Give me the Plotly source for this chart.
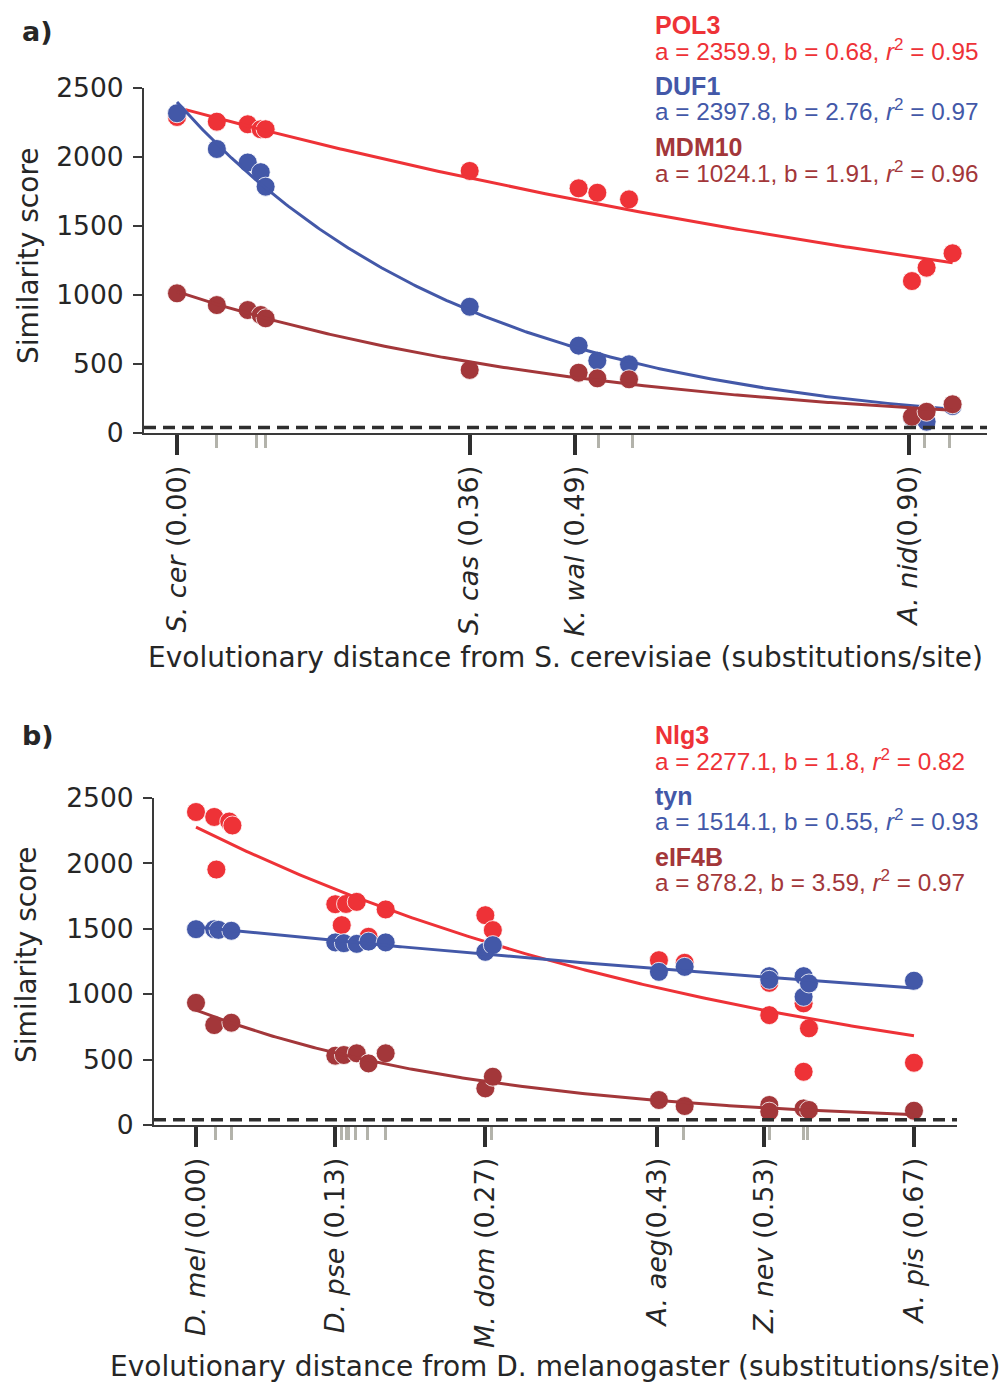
import numpy as np
import plotly.graph_objects as go

W, H = 1002, 1384

# ---------------- Panel a data ----------------
a_genes = ["POL3", "DUF1", "MDM10"]
a_fit_a = [2359.9, 2397.8, 1024.1]
a_fit_b = [0.68, 2.76, 1.91]
a_fit_r2 = [0.95, 0.97, 0.96]
a_x = [0.0, 0.049, 0.087, 0.103, 0.109, 0.36, 0.494, 0.517, 0.556, 0.904, 0.922, 0.954]
a_pol3 = [2290, 2256, 2237, 2201, 2201, 1899, 1773, 1741, 1693, 1101, 1198, 1302]
a_duf1 = [2317, 2058, 1960, 1890, 1785, 915, 633, 524, 498, 110, 82, 195]
a_mdm10 = [1012, 927, 891, 855, 831, 457, 437, 396, 389, 118, 154, 208]
a_major_vals = [0.0, 0.36, 0.49, 0.90]
a_major_text = ["<i>S. cer</i> (0.00)", "<i>S. cas</i> (0.36)", "<i>K. wal</i> (0.49)", "<i>A. nid</i>(0.90)"]
a_minor_vals = [0.049, 0.098, 0.109, 0.519, 0.560, 0.920, 0.950]
a_xtitle = "Evolutionary distance from S. cerevisiae (substitutions/site)"

# ---------------- Panel b data ----------------
b_genes = ["Nlg3", "tyn", "eIF4B"]
b_fit_a = [2277.1, 1514.1, 878.2]
b_fit_b = [1.8, 0.55, 3.59]
b_fit_r2 = [0.82, 0.93, 0.97]
b_nlg3_x = [0.0, 0.017, 0.019, 0.031, 0.034, 0.13, 0.136, 0.14, 0.15, 0.161, 0.177,
            0.27, 0.277, 0.432, 0.456, 0.535, 0.535, 0.567, 0.567, 0.572, 0.67]
b_nlg3_y = [2393, 2355, 1953, 2320, 2290, 1688, 1528, 1690, 1706, 1439, 1648,
            1604, 1490, 1260, 1240, 1087, 840, 930, 407, 739, 476]
b_tyn_x = [0.0, 0.017, 0.021, 0.033, 0.13, 0.138, 0.15, 0.161, 0.177,
           0.27, 0.277, 0.432, 0.456, 0.535, 0.535, 0.567, 0.567, 0.572, 0.67]
b_tyn_y = [1497, 1497, 1492, 1485, 1396, 1390, 1385, 1402, 1396,
           1324, 1375, 1171, 1209, 1138, 1110, 1138, 980, 1082, 1103]
b_eif_x = [0.0, 0.017, 0.033, 0.13, 0.138, 0.15, 0.161, 0.177,
           0.27, 0.277, 0.432, 0.456, 0.535, 0.535, 0.567, 0.572, 0.67]
b_eif_y = [934, 764, 782, 530, 535, 548, 471, 548,
           280, 369, 191, 145, 153, 102, 127, 115, 109]
b_major_vals = [0.0, 0.13, 0.27, 0.43, 0.53, 0.67]
b_major_text = ["<i>D. mel</i> (0.00)", "<i>D. pse</i> (0.13)", "<i>M. dom</i> (0.27)",
                "<i>A. aeg</i>(0.43)", "<i>Z. nev</i> (0.53)", "<i>A. pis</i> (0.67)"]
b_minor_vals = [0.018, 0.033, 0.136, 0.140, 0.142, 0.149, 0.160, 0.177, 0.276,
                0.455, 0.535, 0.567, 0.571]
b_xtitle = "Evolutionary distance from D. melanogaster (substitutions/site)"

threshold = 40
y_ticks = [0, 500, 1000, 1500, 2000, 2500]
colors = ["#EE3237", "#4358A8", "#A3373A"]

AX_FONT = "DejaVu Sans"
LEG_FONT = "Liberation Sans"

fig = go.Figure()


def add_panel(xs_list, ys_list, fa, fb, xaxis, yaxis):
    for i in range(3):
        xs = np.array(xs_list[i])
        xx = np.linspace(0, xs.max(), 300)
        yy = fa[i] * np.exp(-fb[i] * xx)
        fig.add_trace(go.Scatter(x=xs, y=ys_list[i], mode="markers", xaxis=xaxis, yaxis=yaxis,
                                 marker=dict(size=19, color=colors[i], line=dict(width=0.8, color="white")),
                                 cliponaxis=False, showlegend=False, hoverinfo="skip"))
        fig.add_trace(go.Scatter(x=xx, y=yy, mode="lines", xaxis=xaxis, yaxis=yaxis,
                                 line=dict(width=3, color=colors[i]),
                                 cliponaxis=False, showlegend=False, hoverinfo="skip"))


# draw order: red, blue, dark red
add_panel([a_x, a_x, a_x], [a_pol3, a_duf1, a_mdm10], a_fit_a, a_fit_b, "x", "y")
add_panel([b_nlg3_x, b_tyn_x, b_eif_x], [b_nlg3_y, b_tyn_y, b_eif_y], b_fit_a, b_fit_b, "x2", "y2")


def px2x(p):
    return p / W


def px2y(p):
    return 1 - p / H


# panel geometry (pixels)
A_L, A_R, A_T, A_B = 144, 987, 88, 433
B_L, B_R, B_T, B_B = 154, 957, 798, 1125
a_range = [(A_L - 177) / 813.0, (A_R - 177) / 813.0]
b_range = [(B_L - 196) / 1071.6, (B_R - 196) / 1071.6]


def xaxis_cfg(dom, rng, vals, text, minor_vals, anchor):
    return dict(domain=dom, range=rng, anchor=anchor, showgrid=False, zeroline=False,
                automargin=False,
                showline=True, linecolor="#3a3a3a", linewidth=2,
                tickmode="array", tickvals=vals, ticktext=text, tickangle=-90,
                ticks="outside", ticklen=20, tickwidth=3.5, tickcolor="#2e2e2e",
                ticklabelstandoff=0,
                tickfont=dict(family=AX_FONT, size=27, color="#262626"),
                minor=dict(tickmode="array", tickvals=minor_vals, ticks="outside",
                           ticklen=13, tickwidth=3, tickcolor="#b3b3ab", showgrid=False))


def yaxis_cfg(dom, anchor):
    return dict(domain=dom, range=[0, 2500], anchor=anchor, showgrid=False, zeroline=False,
                automargin=False,
                showline=True, linecolor="#3a3a3a", linewidth=2,
                tickmode="array", tickvals=y_ticks, ticks="outside", ticklen=9,
                tickwidth=2, tickcolor="#3a3a3a", ticklabelstandoff=4,
                tickfont=dict(family=AX_FONT, size=26.5, color="#262626"))


fig.update_layout(
    width=W, height=H, margin=dict(l=0, r=0, t=0, b=0, pad=0, autoexpand=False),
    paper_bgcolor="white", plot_bgcolor="white",
    xaxis=xaxis_cfg([px2x(A_L), px2x(A_R)], a_range, a_major_vals, a_major_text, a_minor_vals, "y"),
    yaxis=yaxis_cfg([px2y(A_B), px2y(A_T)], "x"),
    xaxis2=xaxis_cfg([px2x(B_L), px2x(B_R)], b_range, b_major_vals, b_major_text, b_minor_vals, "y2"),
    yaxis2=yaxis_cfg([px2y(B_B), px2y(B_T)], "x2"),
)

# threshold dashed lines
for xr, yr in [("x domain", "y"), ("x2 domain", "y2")]:
    fig.add_shape(type="line", xref=xr, yref=yr, x0=0, x1=1, y0=threshold, y1=threshold,
                  line=dict(color="#2e2e2e", width=3.5, dash="12px,7px"))

ann = []
# panel labels
for lab, py in [("<b>a)</b>", 32), ("<b>b)</b>", 736)]:
    ann.append(dict(text=lab, x=px2x(20), y=px2y(py), xanchor="left", yanchor="middle",
                    xref="paper", yref="paper", showarrow=False,
                    font=dict(family=AX_FONT, size=27, color="#262626")))

# axis titles
for txt, cx, cy in [(a_xtitle, 565, 657), (b_xtitle, 555, 1366)]:
    ann.append(dict(text=txt, x=px2x(cx), y=px2y(cy), xref="paper", yref="paper", showarrow=False,
                    xanchor="center", yanchor="middle",
                    font=dict(family=AX_FONT, size=28, color="#262626")))
for cx, cy in [(28, 256), (26, 955)]:
    ann.append(dict(text="Similarity score", x=px2x(cx), y=px2y(cy), xref="paper", yref="paper",
                    showarrow=False, textangle=-90, xanchor="center", yanchor="middle",
                    font=dict(family=AX_FONT, size=28, color="#262626")))

# fit legends
for genes, fa, fb, fr, ys in [
    (a_genes, a_fit_a, a_fit_b, a_fit_r2, [(25, 50), (86, 110), (147, 172)]),
    (b_genes, b_fit_a, b_fit_b, b_fit_r2, [(735, 760), (796, 820), (857, 881)]),
]:
    for i in range(3):
        ann.append(dict(text="<b>%s</b>" % genes[i], x=px2x(653), y=px2y(ys[i][0]),
                        xref="paper", yref="paper", showarrow=False, xanchor="left", yanchor="middle",
                        font=dict(family=LEG_FONT, size=25, color=colors[i])))
        txt = "a = %s, b = %s, <i>r</i><sup>2</sup> = %.2f" % (repr(fa[i]), repr(fb[i]), fr[i])
        ann.append(dict(text=txt, x=px2x(653), y=px2y(ys[i][1]),
                        xref="paper", yref="paper", showarrow=False, xanchor="left", yanchor="middle",
                        font=dict(family=LEG_FONT, size=24.3, color=colors[i])))

fig.update_layout(annotations=ann)
fig.write_html("out.html")
